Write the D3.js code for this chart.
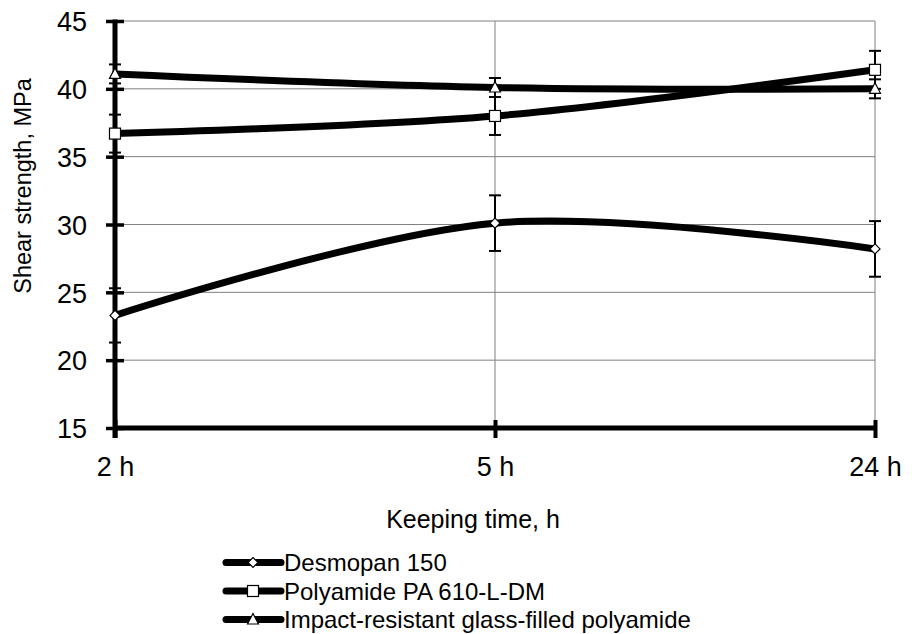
<!doctype html>
<html>
<head>
<style>
  body { margin: 0; background: #fff; }
  text { font-family: "Liberation Sans", Arial, sans-serif; fill: #000; }
</style>
<script src="https://d3js.org/d3.v7.min.js"></script>
</head>
<body>
<svg width="912" height="634"></svg>
<script>
var categories = ["2 h", "5 h", "24 h"];
var yTicks = [15, 20, 25, 30, 35, 40, 45];

var desmopan = [23.3, 30.1, 28.2];
var desmopanErr = [2.0, 2.05, 2.05];
var polyamide = [36.7, 38.0, 41.4];
var polyamideErr = [1.4, 1.4, 1.4];
var impact = [41.1, 40.1, 40.0];
var impactErr = [0.7, 0.7, 0.7];

var seriesNames = ["Desmopan 150", "Polyamide PA 610-L-DM", "Impact-resistant glass-filled polyamide"];

var series = [
    { name: seriesNames[0], values: desmopan, err: desmopanErr, marker: "diamond" },
    { name: seriesNames[1], values: polyamide, err: polyamideErr, marker: "square" },
    { name: seriesNames[2], values: impact, err: impactErr, marker: "triangle" }
];

var svg = d3.select("svg"),
    plotLeft = 115, plotRight = 875, plotTop = 21, plotBottom = 428;

var x = d3.scalePoint().domain(categories).range([plotLeft, plotRight]);
var y = d3.scaleLinear().domain([15, 45]).range([plotBottom, plotTop]);

// gridlines
svg.append("g").selectAll("line")
    .data(yTicks.slice(1))
    .enter().append("line")
    .attr("x1", plotLeft).attr("x2", plotRight)
    .attr("y1", d => y(d)).attr("y2", d => y(d))
    .attr("stroke", "#808080").attr("stroke-width", 1);

svg.append("g").selectAll("line")
    .data(categories.slice(1))
    .enter().append("line")
    .attr("x1", d => x(d)).attr("x2", d => x(d))
    .attr("y1", plotTop).attr("y2", plotBottom)
    .attr("stroke", "#808080").attr("stroke-width", 1);

// y axis
var yAxis = svg.append("g")
    .attr("transform", "translate(" + plotLeft + ",0)")
    .call(d3.axisLeft(y).tickValues(yTicks).tickSize(9).tickPadding(19));
yAxis.select(".domain").attr("stroke-width", 5).attr("d", "M0," + (plotBottom + 10) + "V" + (plotTop - 1.5));
yAxis.selectAll(".tick line").attr("x2", 9).attr("x1", -9).attr("stroke-width", 3.5);
yAxis.selectAll(".tick text").attr("font-size", 27).attr("dy", "0.36em")
    .attr("font-family", "Liberation Sans, Arial, sans-serif");

// x axis
var xAxis = svg.append("g")
    .attr("transform", "translate(0," + plotBottom + ")")
    .call(d3.axisBottom(x).tickSize(10).tickPadding(0));
xAxis.select(".domain").attr("stroke-width", 5).attr("d", "M" + plotLeft + ",0H" + plotRight);
xAxis.selectAll(".tick line").attr("y1", -8).attr("y2", 10).attr("stroke-width", 4);
xAxis.selectAll(".tick text").attr("font-size", 27).attr("y", 48).attr("dy", 0)
    .attr("font-family", "Liberation Sans, Arial, sans-serif");

// axis titles
svg.append("text")
    .attr("transform", "translate(31,186) rotate(-90)")
    .attr("text-anchor", "middle")
    .attr("font-size", 23.5)
    .text("Shear strength, MPa");

svg.append("text")
    .attr("x", 473).attr("y", 528)
    .attr("text-anchor", "middle")
    .attr("font-size", 25)
    .text("Keeping time, h");

// error bars
series.forEach(function (s) {
    var g = svg.append("g").attr("stroke", "#000").attr("stroke-width", 2);
    s.values.forEach(function (v, i) {
        var cx = x(categories[i]);
        g.append("line").attr("x1", cx).attr("x2", cx)
            .attr("y1", y(v - s.err[i])).attr("y2", y(v + s.err[i]));
        [v - s.err[i], v + s.err[i]].forEach(function (e) {
            g.append("line").attr("x1", cx - 6).attr("x2", cx + 6)
                .attr("y1", y(e)).attr("y2", y(e));
        });
    });
});

// lines
var line = d3.line()
    .x((d, i) => x(categories[i]))
    .y(d => y(d))
    .curve(d3.curveCatmullRom.alpha(0.5));

series.forEach(function (s) {
    svg.append("path")
        .attr("d", line(s.values))
        .attr("fill", "none")
        .attr("stroke", "#000")
        .attr("stroke-width", 7);
});

// markers
function drawMarker(g, type, cx, cy) {
    if (type === "diamond") {
        g.append("path")
            .attr("d", "M" + cx + "," + (cy - 5) + "L" + (cx + 5) + "," + cy + "L" + cx + "," + (cy + 5) + "L" + (cx - 5) + "," + cy + "Z")
            .attr("fill", "#fff").attr("stroke", "#000").attr("stroke-width", 1.2);
    } else if (type === "square") {
        g.append("rect")
            .attr("x", cx - 5.5).attr("y", cy - 5.5).attr("width", 11).attr("height", 11)
            .attr("fill", "#fff").attr("stroke", "#000").attr("stroke-width", 1.2);
    } else {
        g.append("path")
            .attr("d", "M" + cx + "," + (cy - 6) + "L" + (cx + 5.5) + "," + (cy + 4.5) + "L" + (cx - 5.5) + "," + (cy + 4.5) + "Z")
            .attr("fill", "#fff").attr("stroke", "#000").attr("stroke-width", 1.2);
    }
}

series.forEach(function (s) {
    var g = svg.append("g");
    s.values.forEach(function (v, i) {
        drawMarker(g, s.marker, x(categories[i]), y(v));
    });
});

// legend
var legend = svg.append("g");
series.forEach(function (s, i) {
    var baseline = 571 + i * 28.5;
    var ly = baseline - 8.5;
    legend.append("line")
        .attr("x1", 226).attr("x2", 281)
        .attr("y1", ly).attr("y2", ly)
        .attr("stroke", "#000").attr("stroke-width", 7)
        .attr("stroke-linecap", "round");
    drawMarker(legend, s.marker, 253, ly);
    legend.append("text")
        .attr("x", 284).attr("y", baseline)
        .attr("font-size", 24)
        .text(s.name);
});
</script>
</body>
</html>
